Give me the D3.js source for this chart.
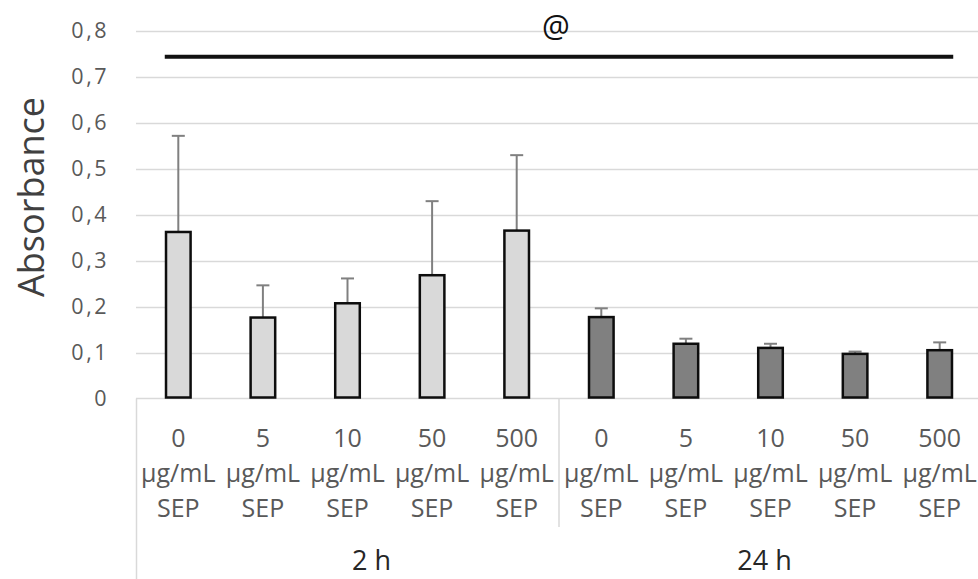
<!DOCTYPE html>
<html>
<head>
<meta charset="utf-8">
<script src="https://cdn.jsdelivr.net/npm/d3@7"></script>
<style>
  html, body { margin: 0; padding: 0; background: #fff; }
  svg { display: block; }
  text { font-family: "Open Sans", "Noto Sans", sans-serif; }
</style>
</head>
<body>
<svg id="chart" width="978" height="579"></svg>
<script>
// ---- data ----
const groups = ["2 h", "24 h"];
const doses = ["0", "5", "10", "50", "500"];
const mean2h = [0.362, 0.176, 0.207, 0.268, 0.365];
const sd2h = [0.209, 0.070, 0.054, 0.161, 0.164];
const mean24h = [0.177, 0.119, 0.110, 0.097, 0.105];
const sd24h = [0.019, 0.011, 0.009, 0.005, 0.017];
const yTicks = [0, 0.1, 0.2, 0.3, 0.4, 0.5, 0.6, 0.7, 0.8];
const sigValue = 0.743;
const sigLabel = "@";
const yTitle = "Absorbance";

// ---- build rows ----
const rows = [];
groups.forEach((g, gi) => {
  const means = gi === 0 ? mean2h : mean24h;
  const sds = gi === 0 ? sd2h : sd24h;
  doses.forEach((d, di) => {
    rows.push({ id: g + "|" + d, group: g, gi, dose: d, mean: means[di], sd: sds[di] });
  });
});

const svg = d3.select("#chart");
const left = 136, right = 982, y0px = 398.5, ytop = 30.5;

const x = d3.scaleBand().domain(rows.map(r => r.id)).range([left, right])
  .paddingInner(0.68).paddingOuter(0.34);
const y = d3.scaleLinear().domain([0, 0.8]).range([y0px, ytop]);
const step = x.step();

// gridlines
svg.append("g").selectAll("line").data(yTicks.filter(t => t > 0)).join("line")
  .attr("x1", left).attr("x2", 978)
  .attr("y1", d => Math.round(y(d)) + 0.5).attr("y2", d => Math.round(y(d)) + 0.5)
  .attr("stroke", "#d9d9d9").attr("stroke-width", 1.5);

// y axis labels
const fmt = d => d === 0 ? "0" : d3.format(".1f")(d).replace(".", ",");
svg.append("g").selectAll("text").data(yTicks).join("text")
  .attr("x", 109).attr("y", d => y(d) + 7.5)
  .attr("text-anchor", "end")
  .attr("font-size", 21.5).attr("letter-spacing", 2.5)
  .attr("fill", "#595959")
  .text(fmt);

// y title
svg.append("text")
  .attr("transform", `translate(44,197) rotate(-90)`)
  .attr("text-anchor", "middle")
  .attr("font-size", 36)
  .attr("fill", "#404040")
  .text(yTitle);

// category axis lines
const axisG = svg.append("g").attr("stroke", "#d9d9d9").attr("stroke-width", 1.5);
axisG.append("line").attr("x1", left).attr("x2", 978).attr("y1", y0px).attr("y2", y0px);
axisG.append("line").attr("x1", left + 0.5).attr("x2", left + 0.5).attr("y1", y0px).attr("y2", 579);
groups.slice(1).forEach((g, i) => {
  const xx = x(g + "|" + doses[0]) - (step - x.bandwidth()) / 2;
  axisG.append("line").attr("x1", xx).attr("x2", xx).attr("y1", y0px).attr("y2", 527);
});

// error bars
const eb = svg.append("g").attr("stroke", "#808080").attr("stroke-width", 2);
rows.forEach(r => {
  const cx = x(r.id) + x.bandwidth() / 2;
  eb.append("line").attr("x1", cx).attr("x2", cx).attr("y1", y(r.mean)).attr("y2", y(r.mean + r.sd));
  eb.append("line").attr("x1", cx - 6.5).attr("x2", cx + 6.5).attr("y1", y(r.mean + r.sd)).attr("y2", y(r.mean + r.sd));
});

// bars
svg.append("g").selectAll("rect").data(rows).join("rect")
  .attr("x", d => x(d.id) + 1.25)
  .attr("width", x.bandwidth() - 2.5)
  .attr("y", d => y(d.mean))
  .attr("height", d => y0px - y(d.mean) - 1)
  .attr("fill", d => d.gi === 0 ? "#d9d9d9" : "#808080")
  .attr("stroke", "#0d0d0d").attr("stroke-width", 2.5);

// significance line
const x1s = x(rows[0].id), x2s = x(rows[rows.length - 1].id) + x.bandwidth();
svg.append("line").attr("x1", x1s).attr("x2", x2s)
  .attr("y1", y(sigValue)).attr("y2", y(sigValue))
  .attr("stroke", "#111").attr("stroke-width", 4);
svg.append("text").attr("x", (x1s + x2s) / 2 - 3).attr("y", 37)
  .attr("text-anchor", "middle").attr("font-size", 31).attr("fill", "#111")
  .text(sigLabel);

// category labels
const catG = svg.append("g").attr("fill", "#595959").attr("font-size", 25).attr("text-anchor", "middle");
rows.forEach(r => {
  const cx = x(r.id) + x.bandwidth() / 2;
  const t = catG.append("text").attr("x", cx);
  [r.dose, "µg/mL", "SEP"].forEach((s, i) => {
    t.append("tspan").attr("x", cx).attr("y", 447 + i * 35).text(s);
  });
});

// group labels
groups.forEach((g, gi) => {
  const ids = rows.filter(r => r.gi === gi).map(r => r.id);
  const cx = (x(ids[0]) + x(ids[ids.length - 1]) + x.bandwidth()) / 2;
  svg.append("text").attr("x", gi === 0 ? cx + 24 : cx - 6).attr("y", 570)
    .attr("text-anchor", "middle").attr("font-size", 27).attr("fill", "#262626")
    .text(g);
});
</script>
</body>
</html>
